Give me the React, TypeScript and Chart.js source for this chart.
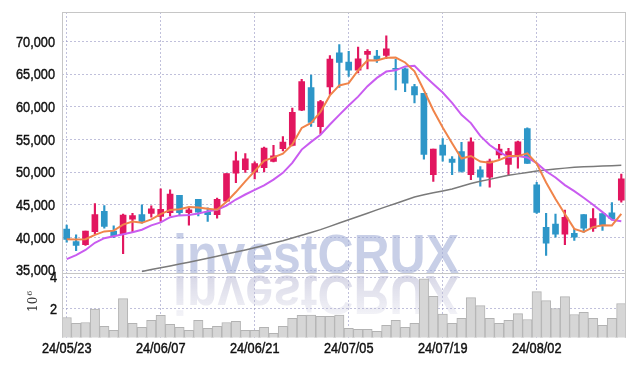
import React, { useEffect, useRef } from 'react';
import { Chart, registerables } from 'chart.js';

Chart.register(...registerables);

const dates = [
  '24/05/23', '24/05/24', '24/05/27', '24/05/28', '24/05/29', '24/05/30', '24/05/31',
  '24/06/03', '24/06/04', '24/06/05', '24/06/07', '24/06/10', '24/06/11', '24/06/12',
  '24/06/13', '24/06/14', '24/06/17', '24/06/18', '24/06/19', '24/06/20', '24/06/21',
  '24/06/24', '24/06/25', '24/06/26', '24/06/27', '24/06/28', '24/07/01', '24/07/02',
  '24/07/03', '24/07/04', '24/07/05', '24/07/08', '24/07/09', '24/07/10', '24/07/11',
  '24/07/12', '24/07/15', '24/07/16', '24/07/17', '24/07/18', '24/07/19', '24/07/22',
  '24/07/23', '24/07/24', '24/07/25', '24/07/26', '24/07/29', '24/07/30', '24/07/31',
  '24/08/01', '24/08/02', '24/08/05', '24/08/06', '24/08/07', '24/08/08', '24/08/09',
  '24/08/12', '24/08/13', '24/08/14', '24/08/16',
];

const opens = [
  41300, 39400, 38900, 40900, 44000, 41000, 40500, 42800, 43500, 43700,
  43250, 43800, 46450, 43800, 45850, 43950, 43500, 45550, 49850, 50400,
  50000, 50700, 51650, 53600, 54100, 59500, 62950, 56950, 63050, 68250,
  66850, 65600, 68000, 67750, 67850, 65900, 65800, 63100, 62050, 49600,
  54150, 52000, 53150, 49600, 50350, 49250, 52650, 51200, 52650, 56650,
  48050, 41550, 42050, 40500, 40650, 43500, 41400, 43650, 43800, 45700,
];

const highs = [
  41900, 40400, 41000, 45200, 44900, 41800, 43600, 43700, 45000, 44850,
  47450, 47300, 46450, 44500, 45850, 44550, 46050, 49800, 53100, 52850,
  51600, 53850, 54100, 55450, 59800, 64200, 64850, 61000, 67850, 69500,
  68500, 69150, 68750, 68650, 70850, 67250, 65950, 63450, 62050, 53550,
  55150, 52400, 54550, 55250, 50850, 52000, 54250, 53650, 54750, 56800,
  48450, 43700, 43600, 44200, 41300, 43500, 44450, 43650, 45350, 49700,
];

const lows = [
  39300, 38000, 38800, 40600, 41450, 40000, 37550, 40750, 42200, 43100,
  42450, 43300, 43400, 41900, 43300, 42450, 42950, 45550, 48400, 49950,
  48950, 50050, 51550, 53250, 54000, 59400, 57000, 55850, 61900, 62950,
  64650, 65200, 65800, 66800, 67350, 62600, 62300, 60600, 52000, 48600,
  51700, 49600, 50000, 48850, 47850, 47700, 52100, 49500, 50600, 51350,
  43700, 37250, 40050, 38900, 39550, 40800, 40950, 41100, 42700, 45400,
];

const closes = [
  39700, 38800, 41000, 43500, 41700, 40300, 43450, 43350, 42450, 44400,
  44300, 46650, 43800, 44250, 43900, 43500, 45850, 49800, 51750, 52050,
  51300, 53700, 52500, 54600, 59150, 63850, 57600, 60800, 67300, 66800,
  65600, 67350, 68500, 67250, 68850, 65700, 63600, 61800, 52700, 53550,
  52600, 51500, 50100, 54650, 49250, 51700, 53550, 53150, 54650, 51350,
  43850, 39150, 40500, 43100, 40050, 41450, 42900, 41950, 42900, 49000,
];

// volume in millions of shares
const volumes = [
  1.43, 1.05, 1.11, 1.96, 0.86, 0.61, 2.63, 1.05, 0.80, 1.24,
  1.56, 0.99, 0.80, 0.61, 1.24, 0.73, 0.86, 1.11, 1.18, 0.61,
  0.61, 0.80, 0.42, 0.86, 1.37, 1.56, 1.58, 1.51, 1.51, 1.58,
  0.73, 0.67, 0.67, 0.54, 0.92, 1.24, 0.80, 1.05, 3.90, 2.78,
  1.64, 1.05, 1.37, 2.70, 2.19, 1.37, 1.05, 1.24, 1.68, 1.30,
  3.08, 2.51, 2.00, 2.76, 1.62, 1.75, 1.37, 0.92, 1.37, 2.32,
];

const ma5 = [
  39750, 39700, 39750, 40400, 40940, 41060, 41990, 42460, 42250, 42790,
  43590, 44230, 44320, 44680, 44580, 44420, 44260, 45460, 46960, 48590,
  50150, 51720, 52260, 52830, 54250, 56760, 57540, 59200, 61740, 63270,
  63620, 65570, 67110, 67100, 67510, 67530, 66780, 65440, 62530, 59470,
  56850, 54430, 52090, 52480, 51620, 51440, 51850, 52460, 52460, 52880,
  51310, 48430, 45900, 43590, 41330, 40850, 41600, 41890, 41850, 43640,
];

const ma10 = [
  36700, 37300, 38100, 39200, 39900, 40200, 40500, 40800, 41200, 41865,
  42325, 43110, 43390, 43465, 43685, 44005, 44245, 44890, 45820, 46585,
  47285, 47990, 48860, 49895, 51420, 53455, 54630, 55730, 57285, 58760,
  60190, 61555, 63155, 64420, 65390, 65575, 66175, 66275, 64815, 63490,
  62190, 60605, 58765, 57505, 55545, 54145, 53140, 52275, 52470, 52250,
  51375, 50140, 49180, 48025, 47105, 46080, 45015, 43895, 42720, 42485,
];

const maLong = [
  null, null, null, null, null, null, null, null, 34800, 35100,
  35380, 35660, 35950, 36230, 36520, 36830, 37150, 37470, 37790, 38110,
  38440, 38800, 39160, 39520, 39930, 40350, 40770, 41210, 41710, 42220,
  42730, 43230, 43730, 44230, 44730, 45220, 45710, 46200, 46550, 46840,
  47130, 47440, 47850, 48260, 48600, 48900, 49220, 49520, 49740, 49950,
  50170, 50340, 50480, 50620, 50760, 50820, 50880, 50940, 51000, 51060,
];

const priceTicks = [35000, 40000, 45000, 50000, 55000, 60000, 65000, 70000];
const volumeTicks = [2, 4];

export default function App() {
  const ref = useRef<HTMLCanvasElement | null>(null);

  useEffect(() => {
    const canvas = ref.current;
    if (!canvas) return;
    const upColor = '#e2165f';
    const downColor = '#2d96c8';
    const candleColors = closes.map((c, i) => (c >= opens[i] ? upColor : downColor));
    const bodies = opens.map((o, i) => [o, closes[i]]);
    const wicks = lows.map((l, i) => [l, highs[i]]);
    const FONT = "'Liberation Sans', Arial, sans-serif";
    const gridColor = 'rgba(150,150,195,0.6)';
    const textColor = '#111';
    const hidden = 'rgba(0,0,0,0)';
    const SQUEEZE = 0.85;

    // draw text horizontally condensed (narrow face look), slightly emboldened
    const narrowText = (c: any, text: string, x: number, y: number, align: string) => {
      const w = c.measureText(text).width * SQUEEZE;
      let left = x;
      if (align === 'right') left = x - w;
      else if (align === 'center') left = x - w / 2;
      c.save();
      c.translate(left, y);
      c.scale(SQUEEZE, 1);
      c.textAlign = 'left';
      c.lineWidth = 0.45;
      c.strokeStyle = textColor;
      c.fillText(text, 0, 0);
      c.strokeText(text, 0, 0);
      c.restore();
    };

    const decor = {
      id: 'decor',
      beforeDatasetsDraw(chart: any) {
        const c = chart.ctx;
        const base = 273;
        const x0 = 173;
        c.save();
        c.font = 'bold 56px "Liberation Sans", Arial, sans-serif';
        c.textAlign = 'left';
        c.textBaseline = 'alphabetic';
        c.fillStyle = 'rgba(160,172,214,0.58)';
        c.fillText('investCRUX', x0, base, 286);
        c.translate(0, 2 * base + 3);
        c.scale(1, -1);
        const g = c.createLinearGradient(0, base, 0, base - 42);
        g.addColorStop(0, 'rgba(185,185,212,0.55)');
        g.addColorStop(1, 'rgba(185,185,212,0.15)');
        c.fillStyle = g;
        c.fillText('investCRUX', x0, base, 286);
        c.restore();
      },
      afterDraw(chart: any) {
        const c = chart.ctx;
        const a = chart.chartArea;
        const yv = chart.scales.yv;
        const yp = chart.scales.y;
        const xs = chart.scales.x;
        c.save();
        c.strokeStyle = '#c6c6c6';
        c.lineWidth = 1;
        c.beginPath();
        c.moveTo(Math.round(a.left) + 0.5, a.top);
        c.lineTo(Math.round(a.left) + 0.5, a.bottom);
        c.moveTo(a.left, Math.round(a.top) + 0.5);
        c.lineTo(a.right, Math.round(a.top) + 0.5);
        c.moveTo(Math.round(a.right) - 0.5, a.top);
        c.lineTo(Math.round(a.right) - 0.5, a.bottom);
        c.moveTo(a.left, Math.round(yv.top) + 0.5);
        c.lineTo(a.right, Math.round(yv.top) + 0.5);
        c.stroke();

        // tick labels
        c.fillStyle = textColor;
        c.font = '15px ' + FONT;
        c.textBaseline = 'middle';
        priceTicks.forEach((v) => {
          narrowText(c, v.toLocaleString('en-US'), 55, yp.getPixelForValue(v) + 1, 'right');
        });
        volumeTicks.forEach((v) => {
          narrowText(c, String(v), 57, yv.getPixelForValue(v) + 1, 'right');
        });
        dates.forEach((d, i) => {
          if (i % 10 === 0) narrowText(c, d, xs.getPixelForValue(i), 349, 'center');
        });

        // 10^6 unit label
        c.translate(37, 312);
        c.rotate(-Math.PI / 2);
        c.fillStyle = '#333';
        c.textAlign = 'left';
        c.textBaseline = 'alphabetic';
        c.font = '12px "DejaVu Serif", serif';
        c.fillText('10', 0, 0);
        const w = c.measureText('10').width;
        c.font = '8px "DejaVu Serif", serif';
        c.fillText('6', w + 1, -5);
        c.restore();
      },
    };

    const chart = new Chart(canvas, {
      type: 'bar',
      data: {
        labels: dates,
        datasets: [
          { type: 'line', label: 'MA5', data: ma5, yAxisID: 'y', borderColor: '#f0844a', borderWidth: 2, pointRadius: 0, order: 0 },
          { type: 'line', label: 'MA10', data: ma10, yAxisID: 'y', borderColor: '#c95cf0', borderWidth: 2, pointRadius: 0, order: 1 },
          { type: 'line', label: 'MA60', data: maLong, yAxisID: 'y', borderColor: '#7a7a7a', borderWidth: 1.5, pointRadius: 0, order: 2 },
          { type: 'bar', label: 'body', data: bodies, yAxisID: 'y', backgroundColor: candleColors, barThickness: 6, grouped: false, order: 3 },
          { type: 'bar', label: 'wick', data: wicks, yAxisID: 'y', backgroundColor: candleColors, barThickness: 1.5, grouped: false, order: 4 },
          { type: 'bar', label: 'volume', data: volumes, yAxisID: 'yv', backgroundColor: '#d6d6d6', borderColor: '#b3b3b3', borderWidth: 1, barPercentage: 1, categoryPercentage: 1, grouped: false, order: 5 },
        ] as any,
      },
      options: {
        animation: false,
        responsive: true,
        maintainAspectRatio: false,
        events: [],
        layout: { padding: { top: 9, right: 9, left: 0, bottom: 0 } },
        plugins: { legend: { display: false }, tooltip: { enabled: false } },
        scales: {
          x: {
            type: 'category',
            offset: true,
            grid: {
              offset: false,
              drawTicks: false,
              color: (ctx: any) => (ctx.index % 10 === 0 ? gridColor : hidden),
            },
            border: { display: false, dash: [2, 2] },
            ticks: {
              autoSkip: false,
              maxRotation: 0,
              color: hidden,
              font: { family: FONT, size: 15 },
              callback: (_v: any, i: number) => (i % 10 === 0 ? dates[i] : ''),
            },
            afterFit: (s: any) => { s.height = 28.5; },
          },
          yv: {
            type: 'linear',
            position: 'left',
            stack: 'main',
            stackWeight: 1,
            min: 0.15,
            max: 4.3,
            afterBuildTicks: (s: any) => { s.ticks = volumeTicks.map((v) => ({ value: v })); },
            grid: { color: gridColor, drawTicks: false },
            border: { display: false, dash: [2, 2] },
            ticks: { autoSkip: false, color: hidden, font: { family: FONT, size: 15 } },
            afterFit: (s: any) => { s.width = 62; },
          },
          y: {
            type: 'linear',
            position: 'left',
            stack: 'main',
            stackWeight: 4.01,
            min: 34650,
            max: 74500,
            afterBuildTicks: (s: any) => { s.ticks = priceTicks.map((v) => ({ value: v })); },
            grid: { color: gridColor, drawTicks: false },
            border: { display: false, dash: [2, 2] },
            ticks: { autoSkip: false, color: hidden, font: { family: FONT, size: 15 } },
            afterFit: (s: any) => { s.width = 62; },
          },
        } as any,
      },
      plugins: [decor],
    });
    return () => chart.destroy();
  }, []);

  return (
    <div style={{ position: 'fixed', left: 0, top: 0, width: 635, height: 366 }}>
      <canvas ref={ref} />
    </div>
  );
}
